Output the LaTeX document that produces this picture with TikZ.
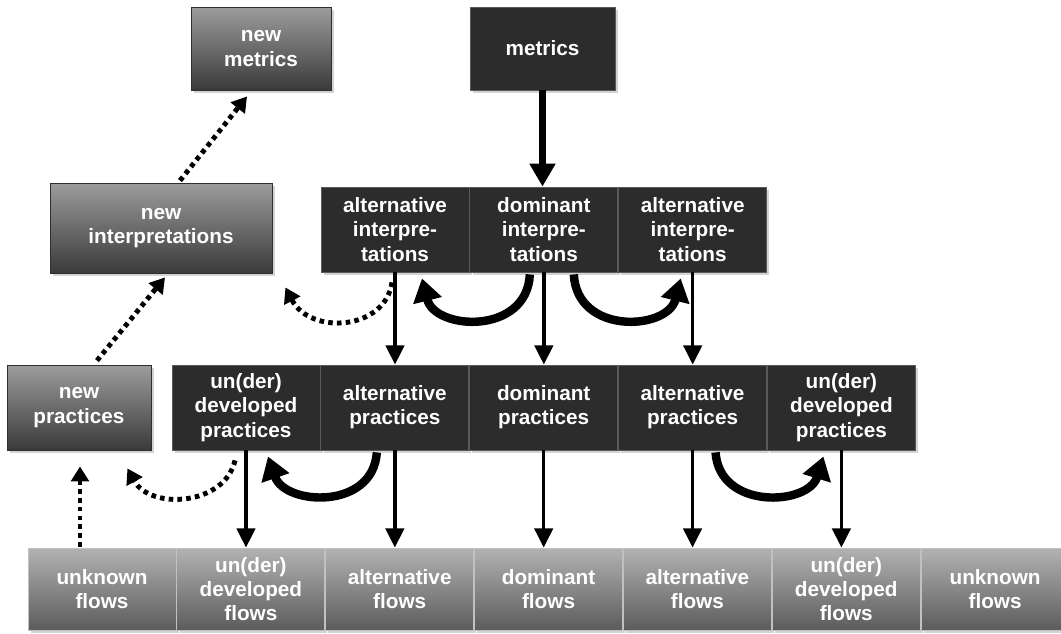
\documentclass[tikz,border=0pt]{standalone}
\usepackage{fontspec}
\setmainfont{Liberation Sans}
\usepackage{xcolor}
\usepackage{tikz}
\usetikzlibrary{arrows.meta,positioning,calc,shadows}
\definecolor{celldark}{HTML}{2C2C2C}
\definecolor{cellline}{HTML}{5A5A5A}
\definecolor{newtop}{HTML}{9C9C9C}
\definecolor{newbot}{HTML}{3A3A3A}
\definecolor{flowtop}{HTML}{B2B2B2}
\definecolor{flowbot}{HTML}{5C5C5C}
\tikzset{
  cell/.style={minimum width=2.96cm,minimum height=1.7cm,inner sep=0pt,align=center,
    text=white,font=\bfseries\fontsize{11.8}{13.8}\selectfont,
    drop shadow={opacity=0.35,shadow xshift=1.5pt,shadow yshift=-1.5pt}},
  darkcell/.style={cell,fill=celldark,draw=cellline,line width=0.5pt},
  newbox/.style={cell,top color=newtop,bottom color=newbot,draw=newbot!80!black,line width=0.5pt},
  flowcell/.style={cell,minimum height=1.64cm,top color=flowtop,bottom color=flowbot,draw=flowtop!80!white,line width=0.5pt},
  thinarrow/.style={line width=2pt,-{Triangle[length=11pt,width=10.5pt]}},
  heavyarrow/.style={line width=3.5pt,-{Triangle[length=13pt,width=14pt]}},
  bigcurve/.style={line width=4.8pt,-{Triangle[length=13pt,width=16pt]}},
  dotarrow/.style={line width=2.8pt,dash pattern=on 2.6pt off 2.4pt,-{Triangle[length=8.5pt,width=10pt]}}
}
\begin{document}
\begin{tikzpicture}[x=0.02cm,y=-0.02cm]
\useasboundingbox (0,0) rectangle (1061,633);
% top boxes
\node[newbox,minimum width=2.8cm,minimum height=1.66cm] (newmet) at (261,48.5) {new\\metrics};
\node[darkcell,minimum width=2.9cm,minimum height=1.66cm] (met) at (542.5,48.5) {metrics};
% interpretations
\node[newbox,minimum width=4.44cm,minimum height=1.8cm] (newint) at (161,228) {new\\interpretations};
\node[darkcell] (altintL) at (395,229.5) {alternative\\interpre-\\tations};
\node[darkcell,right=0pt of altintL] (domint) {dominant\\interpre-\\tations};
\node[darkcell,right=0pt of domint] (altintR) {alternative\\interpre-\\tations};
% practices
\node[newbox,minimum width=2.88cm] (newprac) at (79,407.5) {new\\practices};
\node[darkcell] (undprL) at (246,407.5) {un(der)\\developed\\practices};
\node[darkcell,right=0pt of undprL] (altprL) {alternative\\practices};
\node[darkcell,right=0pt of altprL] (domprac) {dominant\\practices};
\node[darkcell,right=0pt of domprac] (altprR) {alternative\\practices};
\node[darkcell,right=0pt of altprR] (undprR) {un(der)\\developed\\practices};
% flows
\node[flowcell] (unkfL) at (102,589) {unknown\\flows};
\node[flowcell,right=0pt of unkfL] (undfL) {un(der)\\developed\\flows};
\node[flowcell,right=0pt of undfL] (altfL) {alternative\\flows};
\node[flowcell,right=0pt of altfL] (domf) {dominant\\flows};
\node[flowcell,right=0pt of domf] (altfR) {alternative\\flows};
\node[flowcell,right=0pt of altfR] (undfR) {un(der)\\developed\\flows};
\node[flowcell,right=0pt of undfR] (unkfR) {unknown\\flows};
% straight arrows
\draw[heavyarrow] (met.south) -- (met.south |- domint.north);
\foreach \a/\b in {altintL/altprL,domint/domprac,altintR/altprR,undprL/undfL,altprL/altfL,domprac/domf,altprR/altfR,undprR/undfR}
  \draw[thinarrow] (\a.south) -- (\a.south |- \b.north);
% curved arrows
\draw[bigcurve] ($(domint.south)+(-14,2)$) .. controls +(-3,61) and +(13,52) .. ($(altintL.south)+(27,6)$);
\draw[bigcurve] ($(domint.south)+(30,2)$) .. controls +(3,61) and +(-13,52) .. ($(altintR.south)+(-12,6)$);
\draw[bigcurve] ($(altprL.south)+(-18,2)$) .. controls +(-4,58) and +(17,49) .. ($(undprL.south)+(22,6)$);
\draw[bigcurve] ($(altprR.south)+(23,2)$) .. controls +(4,58) and +(-15,49) .. ($(undprR.south)+(-18,6)$);
% dotted arrows
\draw[dotarrow] ($(altintL.south)+(-3,10)$) .. controls +(-7,48) and +(25,48) .. ($(newint.south east)+(13,14)$);
\draw[dotarrow] ($(undprL.south)+(-11,10)$) .. controls +(-10,45) and +(23,42) .. ($(newprac.south east)+(-24,18)$);
\draw[dotarrow] ($(unkfL.north)+(-22,-1)$) -- ($(newprac.south)+(1,16)$);
\draw[dotarrow] ($(newprac.north)+(18,-4)$) -- ($(newint.south)+(4,4)$);
\draw[dotarrow] ($(newint.north)+(19,-2)$) -- ($(newmet.south)+(-14,6)$);
\end{tikzpicture}
\end{document}
